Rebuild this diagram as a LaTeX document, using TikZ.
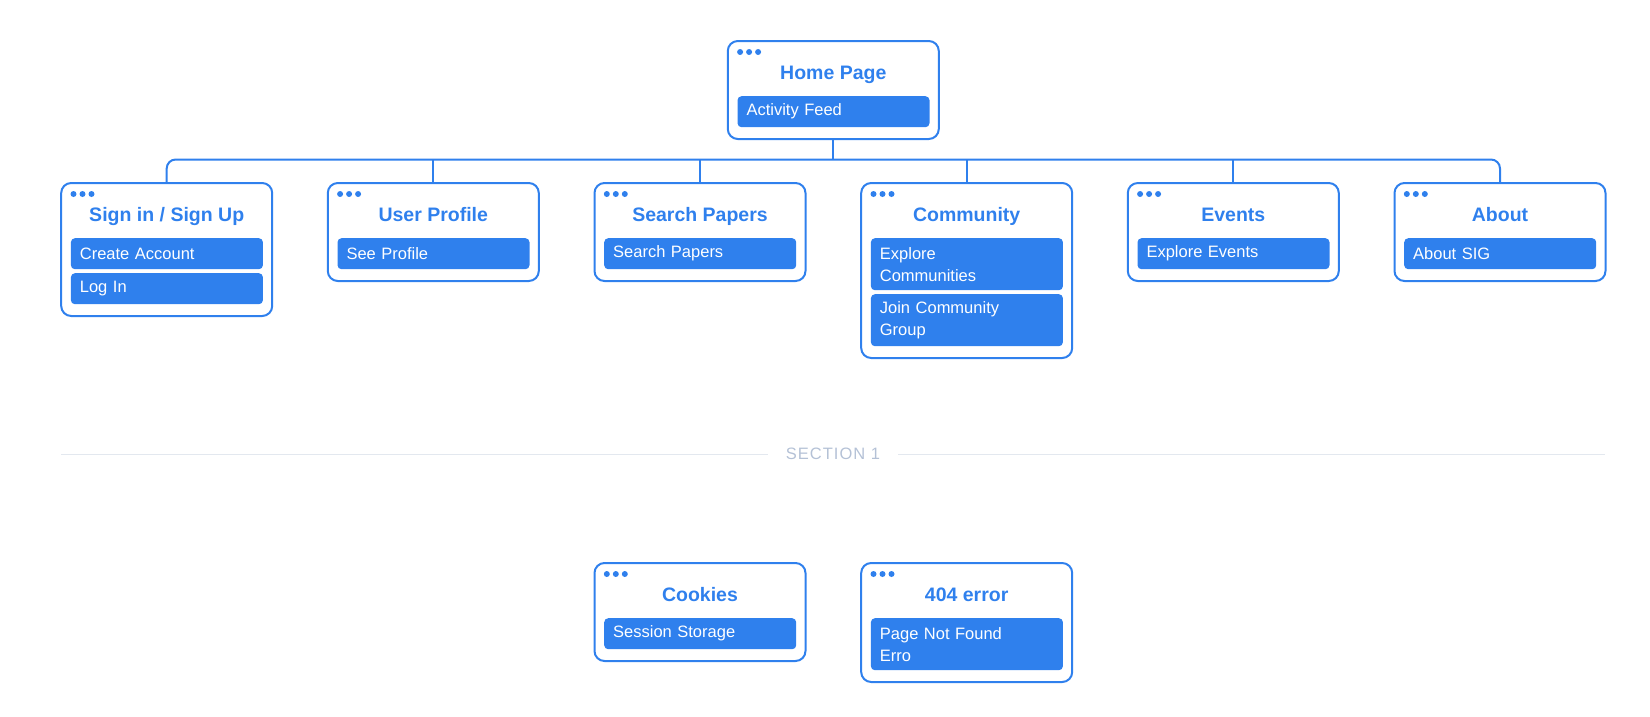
\documentclass[tikz,border=0pt]{standalone}
\usepackage{fontspec}
\setmainfont{Liberation Sans}
\usetikzlibrary{calc}
\definecolor{bl}{HTML}{2F80ED}
\definecolor{sectxt}{HTML}{B4C1D6}
\definecolor{secline}{HTML}{E3E8EF}
\tikzset{
 page/.style={draw=bl, line width=2pt, rounded corners=10pt, minimum width=211pt, inner sep=0pt, anchor=north},
 ttl/.style={anchor=base, font=\fontsize{19.5}{22}\selectfont\bfseries, text=bl, inner sep=0pt},
 item/.style={fill=bl, text=white, rounded corners=4pt, anchor=north west, minimum width=192pt, text width=174pt, inner xsep=9pt, inner ysep=0pt, align=left, font=\fontsize{16.5}{22}\selectfont},
 one/.style={minimum height=31pt},
 two/.style={minimum height=52pt},
 conn/.style={draw=bl, line width=2pt},
 secl/.style={draw=secline, line width=1.5pt},
}
\newcommand\mkpage[5]{%
 \node[page, minimum height=#4pt] (#1) at (#2,#3) {};
 \node[ttl] (#1t) at (#2,#3+39) {#5};
 \foreach \k in {0,1,2} {\fill[bl] ($(#1.north west)+(13.3+9*\k,12)$) circle (3pt);}
}
\begin{document}
\begin{tikzpicture}[x=1pt,y=-1pt]
\useasboundingbox (0,0) rectangle (1650,716);
% pages
\mkpage{home}{833.3}{40}{98}{Home Page}
\node[item,one] (home1) at (833.3-96,40+56) {Activity Feed};

\mkpage{signin}{166.7}{182}{133}{Sign in / Sign Up}
\node[item,one] (signin1) at (166.7-96,182+56) {Create Account};
\node[item,one] (signin2) at (166.7-96,182+91) {Log In};

\mkpage{user}{433.3}{182}{98}{User Profile}
\node[item,one] (user1) at (433.3-96,182+56) {See Profile};

\mkpage{search}{700}{182}{98}{Search Papers}
\node[item,one] (search1) at (700-96,182+56) {Search Papers};

\mkpage{comm}{966.7}{182}{175}{Community}
\node[item,two] (comm1) at (966.7-96,182+56) {Explore\\Communities};
\node[item,two] (comm2) at (966.7-96,182+112) {Join Community\\Group};

\mkpage{events}{1233.3}{182}{98}{Events}
\node[item,one] (events1) at (1233.3-96,182+56) {Explore Events};

\mkpage{about}{1500}{182}{98}{About}
\node[item,one] (about1) at (1500-96,182+56) {About SIG};

\mkpage{cookies}{700}{562}{98}{Cookies}
\node[item,one] (cookies1) at (700-96,562+56) {Session Storage};

\mkpage{err}{966.7}{562}{119}{404 error}
\node[item,two] (err1) at (966.7-96,562+56) {Page Not Found\\Erro};

% connectors
\coordinate (bus) at (833.3,159.5);
\draw[conn, rounded corners=9pt] (signin.north) -- (signin.north |- bus) -- (about.north |- bus) -- (about.north);
\draw[conn] (home.south) -- (home.south |- bus);
\foreach \n in {user,search,comm,events} {\draw[conn] (\n.north) -- (\n.north |- bus);}

% section divider
\node[inner xsep=18pt, inner ysep=2pt, text=sectxt, font=\fontsize{16.5}{20}\selectfont\addfontfeature{LetterSpace=6}] (sec) at (833,454.3) {SECTION 1};
\coordinate (secL) at (61,454.3);
\coordinate (secR) at (1605,454.3);
\draw[secl] (secL) -- (sec.west);
\draw[secl] (sec.east) -- (secR);
\end{tikzpicture}
\end{document}
